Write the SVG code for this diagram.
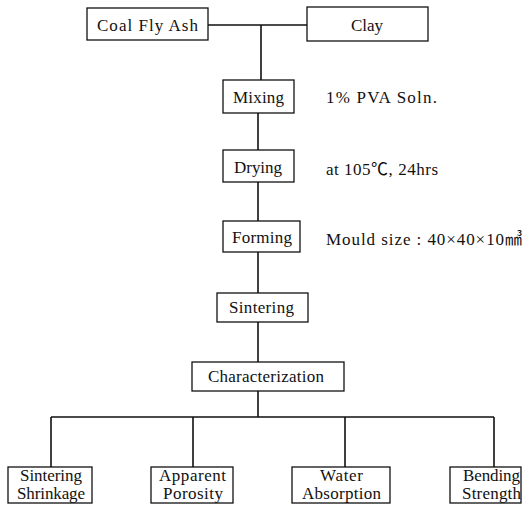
<svg xmlns="http://www.w3.org/2000/svg" width="522" height="505" viewBox="0 0 522 505">
<style>
.box{fill:#fff;stroke:#111;stroke-width:1.3}
.ln{fill:none;stroke:#111;stroke-width:1.6}
text{font-family:"Liberation Serif","Times New Roman","DejaVu Serif",serif;font-size:17px;fill:#111}
.cjk{font-family:"Liberation Serif","Noto Sans CJK KR",serif}
</style>
<rect width="522" height="505" fill="#fff"/>
<g id="connectors">
<path class="ln" d="M208 25H307M261 25V80"/>
<path class="ln" d="M258 113V150"/>
<path class="ln" d="M258 182V221"/>
<path class="ln" d="M258 252V293"/>
<path class="ln" d="M258 322V362"/>
<path class="ln" d="M258 391V417M51 417H494M51 417V467M193 417V467M345 417V467M494 417V467"/>
</g>
<g id="coal"><rect class="box" x="87" y="8" width="121" height="32"/><text x="97" y="31" textLength="101" lengthAdjust="spacing">Coal Fly Ash</text></g>
<g id="clay"><rect class="box" x="307" y="7" width="121" height="34"/><text x="351" y="31" textLength="32" lengthAdjust="spacing">Clay</text></g>
<g id="mixing"><rect class="box" x="223" y="80" width="71" height="33"/><text x="233" y="103" textLength="51" lengthAdjust="spacing">Mixing</text></g>
<g id="pva"><text x="326" y="103" textLength="111" lengthAdjust="spacing">1% PVA Soln.</text></g>
<g id="drying"><rect class="box" x="223" y="150" width="71" height="32"/><text x="234" y="173" textLength="48" lengthAdjust="spacing">Drying</text></g>
<g id="temp"><text class="cjk" x="326" y="175" textLength="112" lengthAdjust="spacing">at 105℃, 24hrs</text></g>
<g id="forming"><rect class="box" x="223" y="221" width="77" height="31"/><text x="232" y="243" textLength="60" lengthAdjust="spacing">Forming</text></g>
<g id="mould"><text class="cjk" x="326" y="245" textLength="196" lengthAdjust="spacing">Mould size : 40×40×10㎣</text></g>
<g id="sintering"><rect class="box" x="217" y="293" width="91" height="29"/><text x="229" y="313" textLength="65" lengthAdjust="spacing">Sintering</text></g>
<g id="characterization"><rect class="box" x="192" y="362" width="152" height="29"/><text x="208" y="382" textLength="116" lengthAdjust="spacing">Characterization</text></g>
<g id="shrinkage"><rect class="box" x="8" y="467" width="84" height="36"/><text x="20" y="481" textLength="62" lengthAdjust="spacing">Sintering</text><text x="17" y="499" textLength="68" lengthAdjust="spacing">Shrinkage</text></g>
<g id="porosity"><rect class="box" x="151" y="467" width="82" height="36"/><text x="159" y="481" textLength="67" lengthAdjust="spacing">Apparent</text><text x="163" y="499" textLength="60" lengthAdjust="spacing">Porosity</text></g>
<g id="absorption"><rect class="box" x="292" y="467" width="98" height="36"/><text x="320" y="481" textLength="43" lengthAdjust="spacing">Water</text><text x="302" y="499" textLength="79" lengthAdjust="spacing">Absorption</text></g>
<g id="bending"><rect class="box" x="450" y="467" width="71" height="36"/><text x="463" y="481" textLength="57" lengthAdjust="spacing">Bending</text><text x="462" y="499" textLength="59" lengthAdjust="spacing">Strength</text></g>
</svg>
